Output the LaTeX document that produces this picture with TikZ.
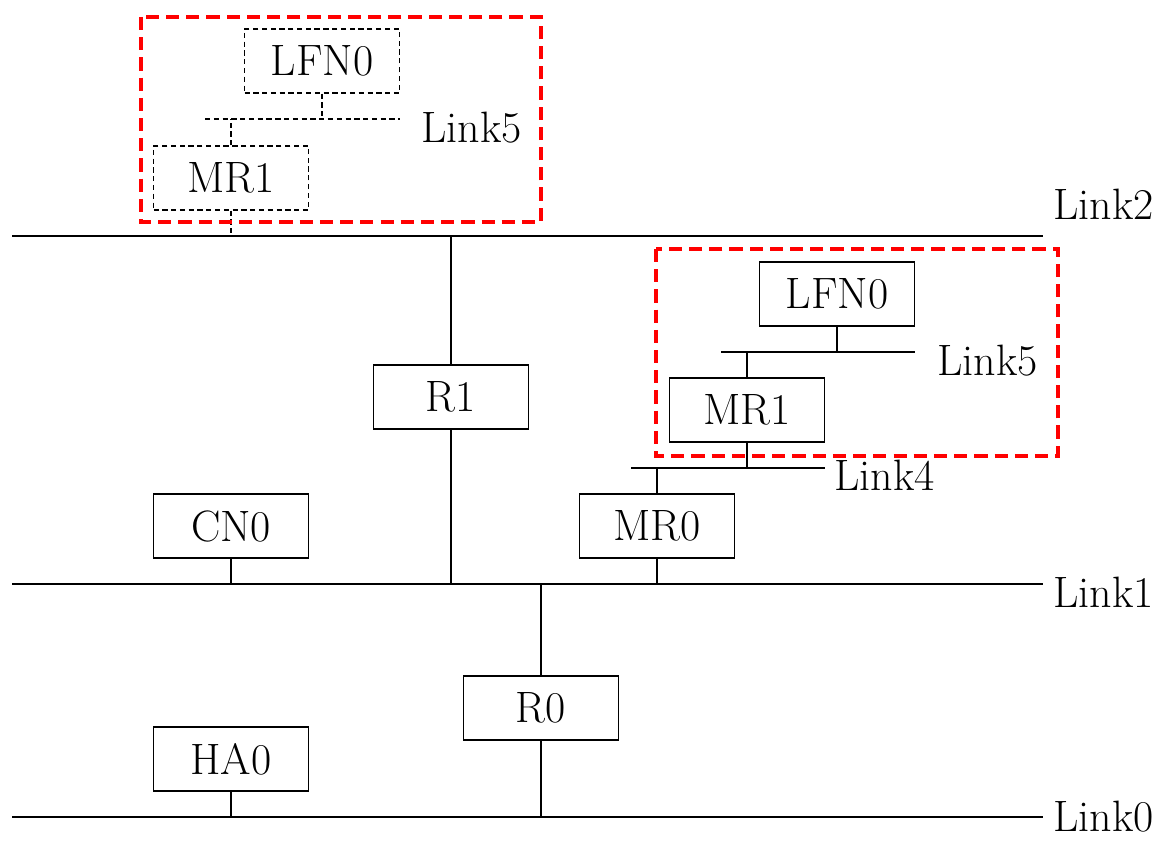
\documentclass[tikz,border=0pt]{standalone}
\usepackage{tikz}
\usetikzlibrary{calc,positioning}
\tikzset{router/.style={draw,line width=0.8pt,minimum width=3.1cm,minimum height=1.28cm,inner sep=0pt},
  ghost/.style={router,densely dashed,line width=0.6pt},
  link/.style={line width=1pt},
  wire/.style={line width=0.8pt},
  linklabel/.style={anchor=base west,inner sep=0pt},
  mobilenet/.style={red,line width=2pt,dash pattern=on 7.5pt off 4pt}}

\begin{document}
\begin{tikzpicture}[x=0.02cm,y=-0.02cm,every node/.style={font=\fontsize{25}{30}\selectfont}]

\useasboundingbox (0,0) rectangle (1173,841);

% The links
\coordinate (link0-w) at (12,817);
\coordinate (link0-e) at (1043,817);
\coordinate (link1-w) at (12,584);
\coordinate (link1-e) at (1043,584);
\coordinate (link2-w) at (12,236);
\coordinate (link2-e) at (1043,236);
\coordinate (link4-w) at (631,468);
\coordinate (link4-e) at (825,468);
\coordinate (link5-w) at (721,352);
\coordinate (link5-e) at (915,352);
\coordinate (link5g-w) at (205,119);
\coordinate (link5g-e) at (400,119);

\draw[link] (link0-w) -- (link0-e);
\draw[link] (link1-w) -- (link1-e);
\draw[link] (link2-w) -- (link2-e);
\draw[link] (link4-w) -- (link4-e);
\draw[link] (link5-w) -- (link5-e);
\draw[wire,densely dashed] (link5g-w) -- (link5g-e);

\node[linklabel] (link0-lbl) at (1053,831) {Link0};
\node[linklabel] (link1-lbl) at (1053,607) {Link1};
\node[linklabel] (link2-lbl) at (1053,220) {Link2};
\node[linklabel] (link4-lbl) at (834,490) {Link4};
\node[linklabel] (link5-lbl) at (937,375) {Link5};
\node[linklabel] (link5g-lbl) at (421,143) {Link5};

% Nodes
\node[router] (ha0) at (231,759) {HA0};
\node[router] (cn0) at (231,526) {CN0};
\node[router] (r0) at (541,708) {R0};
\node[router] (r1) at (451,397) {R1};
\node[router] (mr0) at (657,526) {MR0};
\node[router] (mr1) at (747,410) {MR1};
\node[router] (lfn0) at (837,294) {LFN0};
\node[ghost] (mr1-ghost) at (231,178) {MR1};
\node[ghost] (lfn0-ghost) at (322,61) {LFN0};

% Attachments
\draw[wire] (ha0) -- (ha0 |- link0-w);
\draw[wire] (cn0) -- (cn0 |- link1-w);
\draw[wire] (r0) -- (r0 |- link0-w);
\draw[wire] (r0) -- (r0 |- link1-w);
\draw[wire] (r1) -- (r1 |- link1-w);
\draw[wire] (r1) -- (r1 |- link2-w);
\draw[wire] (mr0) -- (mr0 |- link1-w);
\draw[wire] (mr0) -- (mr0 |- link4-w);
\draw[wire] (mr1) -- (mr1 |- link4-w);
\draw[wire] (mr1) -- (mr1 |- link5-w);
\draw[wire] (lfn0) -- (lfn0 |- link5-w);
\draw[wire,densely dashed] (mr1-ghost) -- (mr1-ghost |- link2-w);
\draw[wire,densely dashed] (mr1-ghost) -- (mr1-ghost |- link5g-w);
\draw[wire,densely dashed] (lfn0-ghost) -- (lfn0-ghost |- link5g-w);

% The mobile networks
\draw[mobilenet] (141,17) rectangle (541,222);
\draw[mobilenet] (656,249) rectangle (1058,456);

\end{tikzpicture}
\end{document}
